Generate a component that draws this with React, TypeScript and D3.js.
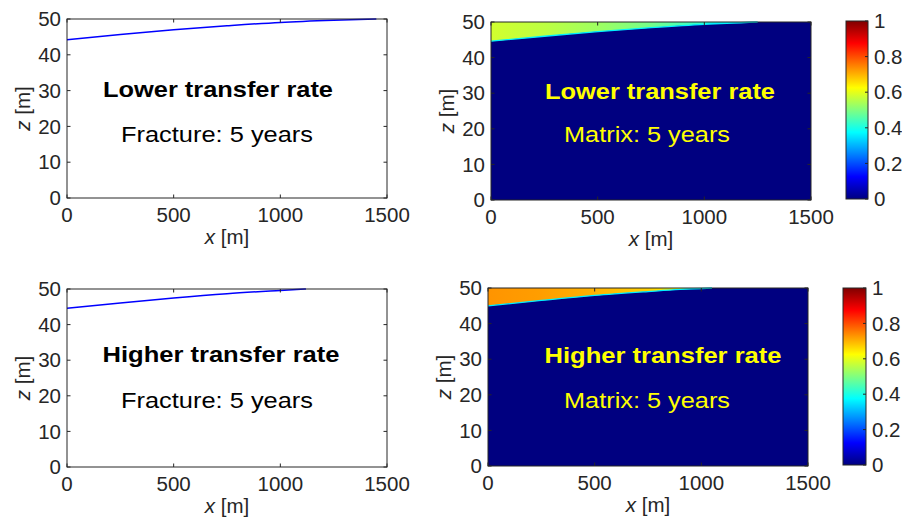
import React, { useRef, useEffect } from 'react';
import * as d3 from 'd3';

// axis ticks
const X_TICKS = [0, 500, 1000, 1500];
const Z_TICKS = [0, 10, 20, 30, 40, 50];
const CB_TICKS = [0, 0.2, 0.4, 0.6, 0.8, 1];

// fracture fronts (line plots)
const fracLowerX = [0, 250, 500, 750, 1000, 1250, 1450];
const fracLowerZ = [44.2, 45.7, 47.0, 48.1, 49.05, 49.65, 50.0];
const fracHigherX = [0, 250, 500, 750, 1000, 1120];
const fracHigherZ = [44.6, 46.1, 47.5, 48.7, 49.6, 50.0];

// matrix fronts and concentration at the top boundary
const matLowerX = [0, 250, 500, 750, 1000, 1250];
const matLowerZ = [44.6, 46.0, 47.3, 48.4, 49.35, 50.0];
const matLowerC = [0.58, 0.56, 0.53, 0.49, 0.42, 0.3];
const matHigherX = [0, 250, 500, 750, 900, 1050];
const matHigherZ = [45.0, 46.5, 47.9, 49.0, 49.6, 50.0];
const matHigherC = [0.73, 0.72, 0.7, 0.67, 0.62, 0.4];

const jet = (v: number) => {
  const c = (t: number) => Math.round(255 * Math.max(0, Math.min(1, t)));
  return d3.rgb(c(1.5 - Math.abs(4 * v - 3)), c(1.5 - Math.abs(4 * v - 2)), c(1.5 - Math.abs(4 * v - 1))).formatHex();
};

const AXIS = '#262626';
const FONT = 'Liberation Sans, Arial, Helvetica, sans-serif';
const FS = 20.5;

const panels = [
  { kind: 'line', box: [67, 19, 387, 198], xs: fracLowerX, zs: fracLowerZ, title: 'Lower transfer rate', sub: 'Fracture: 5 years', tx: 218, ty: 97, sx: 217, sy: 142, tw: 230, sw: 192, color: '#000' },
  { kind: 'heat', box: [491, 22, 811, 200], cb: [846, 21, 868, 199], xs: matLowerX, zs: matLowerZ, cs: matLowerC, title: 'Lower transfer rate', sub: 'Matrix: 5 years', tx: 660, ty: 99, sx: 647, sy: 142, tw: 230, sw: 166, color: '#ffff00' },
  { kind: 'line', box: [67, 289, 387, 467], xs: fracHigherX, zs: fracHigherZ, title: 'Higher transfer rate', sub: 'Fracture: 5 years', tx: 221, ty: 362, sx: 217, sy: 408, tw: 237, sw: 192, color: '#000' },
  { kind: 'heat', box: [488, 288, 808, 466], cb: [843, 288, 866, 465], xs: matHigherX, zs: matHigherZ, cs: matHigherC, title: 'Higher transfer rate', sub: 'Matrix: 5 years', tx: 663, ty: 363, sx: 647, sy: 408, tw: 237, sw: 166, color: '#ffff00' },
];

const App = () => {
  const ref = useRef<SVGSVGElement>(null);

  useEffect(() => {
    const svg = d3.select(ref.current);
    svg.selectAll('*').remove();
    const defs = svg.append('defs');

    // jet gradient for colorbars
    const cbGrad = defs.append('linearGradient').attr('id', 'jetbar')
      .attr('x1', 0).attr('y1', 1).attr('x2', 0).attr('y2', 0);
    d3.range(0, 1.0001, 0.0625).forEach(v => {
      cbGrad.append('stop').attr('offset', v).attr('stop-color', jet(v));
    });

    panels.forEach((p: any, i) => {
      const [x0, y0, x1, y1] = p.box;
      const x = d3.scaleLinear().domain([0, 1500]).range([x0, x1]);
      const z = d3.scaleLinear().domain([0, 50]).range([y1, y0]);
      const g = svg.append('g');
      const pts = p.xs.map((xv: number, k: number) => [xv, p.zs[k]]);
      const front = d3.line<number[]>().x(d => x(d[0])).y(d => z(d[1])).curve(d3.curveMonotoneX);

      if (p.kind === 'heat') {
        g.append('rect').attr('x', x0).attr('y', y0).attr('width', x1 - x0).attr('height', y1 - y0)
          .attr('fill', jet(0));
        const gid = `mat${i}`;
        const span = p.xs[p.xs.length - 1];
        const grad = defs.append('linearGradient').attr('id', gid).attr('gradientUnits', 'userSpaceOnUse')
          .attr('x1', x(0)).attr('x2', x(span)).attr('y1', 0).attr('y2', 0);
        p.xs.forEach((xv: number, k: number) => {
          grad.append('stop').attr('offset', xv / span).attr('stop-color', jet(p.cs[k]));
        });
        const area = d3.area<number[]>().x(d => x(d[0])).y0(() => z(50)).y1(d => z(d[1])).curve(d3.curveMonotoneX);
        g.append('path').datum(pts).attr('d', area).attr('fill', `url(#${gid})`);
        g.append('path').datum(pts).attr('d', front).attr('fill', 'none')
          .attr('stroke', jet(0.36)).attr('stroke-width', 1.3);
      } else {
        g.append('rect').attr('x', x0).attr('y', y0).attr('width', x1 - x0).attr('height', y1 - y0)
          .attr('fill', '#fff');
        g.append('path').datum(pts).attr('d', front).attr('fill', 'none')
          .attr('stroke', '#0000ff').attr('stroke-width', 1.5);
      }

      // box and inward ticks
      g.append('rect').attr('x', x0).attr('y', y0).attr('width', x1 - x0).attr('height', y1 - y0)
        .attr('fill', 'none').attr('stroke', AXIS).attr('stroke-width', 1);
      X_TICKS.forEach(t => {
        g.append('line').attr('x1', x(t)).attr('x2', x(t)).attr('y1', y1).attr('y2', y1 - 3.5).attr('stroke', AXIS);
        g.append('line').attr('x1', x(t)).attr('x2', x(t)).attr('y1', y0).attr('y2', y0 + 3.5).attr('stroke', AXIS);
        g.append('text').attr('x', x(t)).attr('y', y1 + 24).attr('text-anchor', 'middle')
          .attr('font-family', FONT).attr('font-size', FS).attr('fill', AXIS).text(t);
      });
      Z_TICKS.forEach(t => {
        g.append('line').attr('x1', x0).attr('x2', x0 + 3.5).attr('y1', z(t)).attr('y2', z(t)).attr('stroke', AXIS);
        g.append('line').attr('x1', x1).attr('x2', x1 - 3.5).attr('y1', z(t)).attr('y2', z(t)).attr('stroke', AXIS);
        g.append('text').attr('x', x0 - 6).attr('y', z(t)).attr('dy', '0.35em').attr('text-anchor', 'end')
          .attr('font-family', FONT).attr('font-size', FS).attr('fill', AXIS).text(t);
      });

      // axis labels
      const xl = g.append('text').attr('x', (x0 + x1) / 2).attr('y', y1 + 46).attr('text-anchor', 'middle')
        .attr('font-family', FONT).attr('font-size', FS).attr('fill', AXIS);
      xl.append('tspan').attr('font-style', 'italic').text('x');
      xl.append('tspan').text(' [m]');
      const zl = g.append('text').attr('transform', `translate(${x0 - 37},${(y0 + y1) / 2}) rotate(-90)`)
        .attr('text-anchor', 'middle').attr('font-family', FONT).attr('font-size', FS).attr('fill', AXIS);
      zl.append('tspan').attr('font-style', 'italic').text('z');
      zl.append('tspan').text(' [m]');

      // annotations
      g.append('text').attr('x', p.tx).attr('y', p.ty).attr('text-anchor', 'middle')
        .attr('font-family', FONT).attr('font-size', 22).attr('font-weight', 'bold').attr('fill', p.color)
        .attr('textLength', p.tw).attr('lengthAdjust', 'spacingAndGlyphs').text(p.title);
      g.append('text').attr('x', p.sx).attr('y', p.sy).attr('text-anchor', 'middle')
        .attr('font-family', FONT).attr('font-size', 22).attr('fill', p.color)
        .attr('textLength', p.sw).attr('lengthAdjust', 'spacingAndGlyphs').text(p.sub);

      // colorbar
      if (p.cb) {
        const [cx0, cy0, cx1, cy1] = p.cb;
        const c = d3.scaleLinear().domain([0, 1]).range([cy1, cy0]);
        g.append('rect').attr('x', cx0).attr('y', cy0).attr('width', cx1 - cx0).attr('height', cy1 - cy0)
          .attr('fill', 'url(#jetbar)').attr('stroke', AXIS).attr('stroke-width', 1);
        CB_TICKS.forEach(t => {
          g.append('line').attr('x1', cx1).attr('x2', cx1 - 3).attr('y1', c(t)).attr('y2', c(t)).attr('stroke', AXIS);
          g.append('text').attr('x', cx1 + 6).attr('y', c(t)).attr('dy', '0.35em')
            .attr('font-family', FONT).attr('font-size', FS).attr('fill', AXIS).text(t);
        });
      }
    });
  }, []);

  return <svg ref={ref} width={902} height={521} style={{ position: 'absolute', left: 0, top: 0, background: '#fff' }} />;
};

export default App;
